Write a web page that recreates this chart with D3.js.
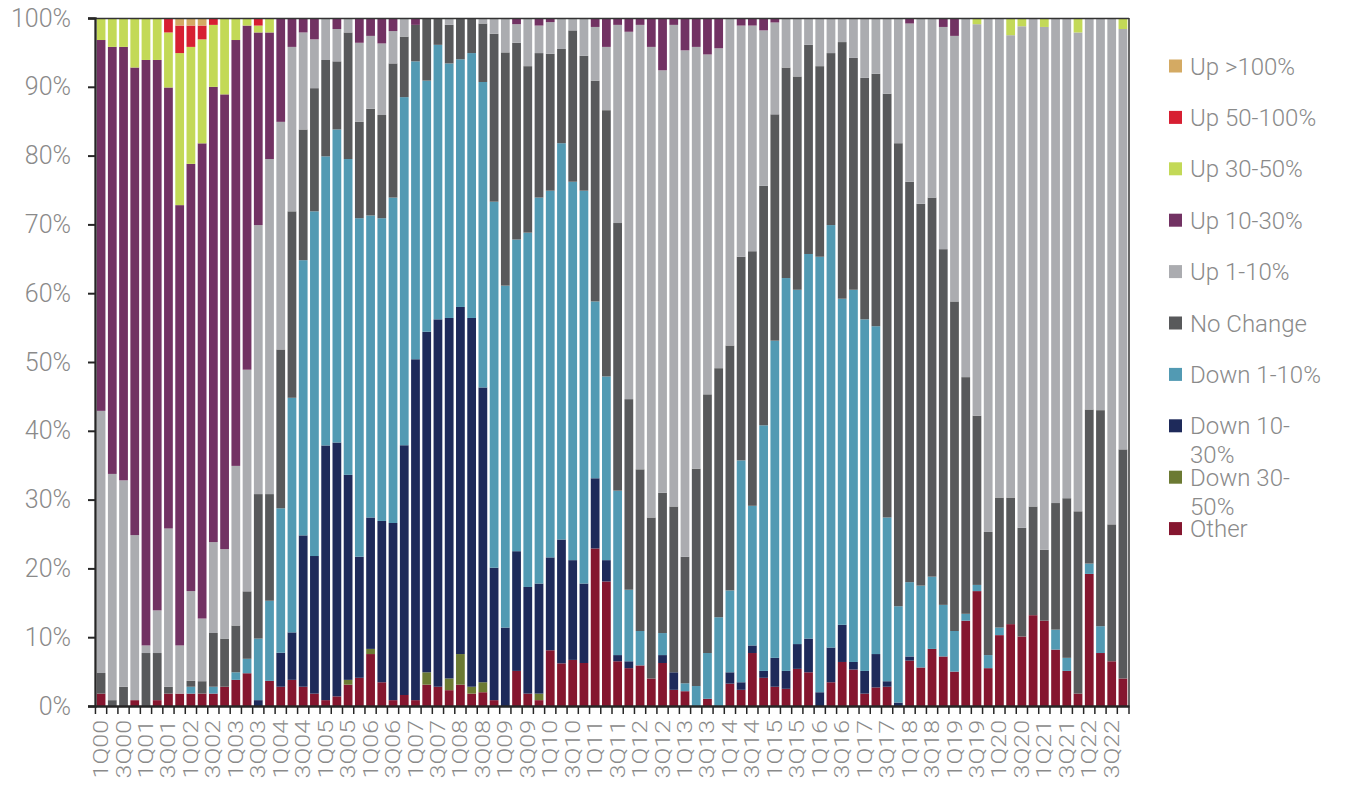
<!DOCTYPE html>
<html><head><meta charset="utf-8">
<script src="https://cdn.jsdelivr.net/npm/d3@7"></script>
<style>body{margin:0;background:#fff}</style>
</head><body><svg id="c" width="1345" height="785"></svg>
<script>
const categories = ["1Q00","2Q00","3Q00","4Q00","1Q01","2Q01","3Q01","4Q01","1Q02","2Q02","3Q02","4Q02",
"1Q03","2Q03","3Q03","4Q03","1Q04","2Q04","3Q04","4Q04","1Q05","2Q05","3Q05","4Q05",
"1Q06","2Q06","3Q06","4Q06","1Q07","2Q07","3Q07","4Q07","1Q08","2Q08","3Q08","4Q08",
"1Q09","2Q09","3Q09","4Q09","1Q10","2Q10","3Q10","4Q10","1Q11","2Q11","3Q11","4Q11",
"1Q12","2Q12","3Q12","4Q12","1Q13","2Q13","3Q13","4Q13","1Q14","2Q14","3Q14","4Q14",
"1Q15","2Q15","3Q15","4Q15","1Q16","2Q16","3Q16","4Q16","1Q17","2Q17","3Q17","4Q17",
"1Q18","2Q18","3Q18","4Q18","1Q19","2Q19","3Q19","4Q19","1Q20","2Q20","3Q20","4Q20",
"1Q21","2Q21","3Q21","4Q21","1Q22","2Q22","3Q22","4Q22"];
const xTickLabels = ["1Q00","3Q00","1Q01","3Q01","1Q02","3Q02","1Q03","3Q03","1Q04","3Q04","1Q05","3Q05",
"1Q06","3Q06","1Q07","3Q07","1Q08","3Q08","1Q09","3Q09","1Q10","3Q10","1Q11","3Q11","1Q12","3Q12",
"1Q13","3Q13","1Q14","3Q14","1Q15","3Q15","1Q16","3Q16","1Q17","3Q17","1Q18","3Q18","1Q19","3Q19",
"1Q20","3Q20","1Q21","3Q21","1Q22","3Q22"];

const other = [1.8,0,0,0.85,0,0.85,1.8,1.8,1.8,1.8, 1.8,2.8,3.8,4.76,0,3.65,2.8,3.8,2.8,1.8,
 0.85,1.4,3.1,4.1,7.55,3.45,0.85,1.6,0.85,3.1, 2.8,2.3,3.1,1.8,2.0,0.85,0,5.1,1.8,0.85,
 8.1,6.2,6.7,6.25,22.9,18.1,6.5,5.5,5.9,4.0, 6.25,2.35,2.15,0,1.05,0,3.25,2.35,7.7,4.1,
 2.8,2.5,5.4,4.9,0,3.45,6.4,5.3,1.8,2.7, 2.8,0,6.6,5.6,8.3,7.2,5.0,12.4,16.7,5.5,
 10.3,11.9,10.1,13.2,12.4,8.2,5.1,1.8,19.2,7.7, 6.5,4.0];
const down30_50 = [0,0,0,0,0,0,0,0,0,0, 0,0,0,0,0,0,0,0,0,0,
 0,0,0.7,0,0.75,0,0,0,0,1.8, 0,1.7,4.45,1.0,1.45,0,0,0,0,0.95,
 0,0,0,0,0,0,0,0,0,0, 0,0,0,0,0,0,0,0,0,0,
 0,0,0,0,0,0,0,0,0,0, 0,0,0,0,0,0,0,0,0,0,
 0,0,0,0,0,0,0,0,0,0, 0,0];
const down10_30 = [0,0,0,0,0,0,0,0,0,0, 0,0,0,0,0.85,0,4.95,6.9,22,20,
 37,36.9,29.8,17.6,19.1,23.45,25.75,36.3,49.55,49.5, 53.4,52.4,50.45,53.6,42.85,19.25,11.4,17.4,15.5,16,
 13.5,18,14.5,11.55,10.2,3.1,0.9,1.0,0,0, 1.15,2.55,0,0,0,0,1.65,1.1,1.1,1.0,
 4.2,2.6,3.6,4.9,2.0,5.05,5.4,1.1,3.3,4.85, 0.8,0.5,0.6,0,0,0,0,0,0,0,
 0,0,0,0,0,0,0,0,0,0, 0,0];
const down1_10 = [0,0,0,0,0,0,0,0,1.0,0, 1.0,0,1.1,2.1,8.95,11.65,21,34.1,40,50.1,
 42,45.5,45.9,49.2,43.9,44,47.3,50.6,43.3,36.5, 39.9,37,36,38.5,44.4,53.2,49.7,45.3,51.5,56.1,
 53.3,57.6,55,57.1,25.7,26.7,23.9,10.4,5.0,0, 3.2,0,1.15,2.9,6.65,12.9,11.9,32.25,20.3,35.7,
 46.1,57.1,51.5,55.9,63.3,61.4,47.4,54.1,51.1,47.65, 23.8,14,10.8,11.9,10.5,7.5,5.9,1.0,0.9,1.9,
 1.1,0,0,0,0,2.9,1.9,0,1.5,3.9, 0,0];
const noChange = [3.0,0.85,2.8,0,7.7,6.85,1.0,0,0.85,1.8, 7.8,7,6.8,9.8,21,15.5,23.1,27.1,19,17.9,
 14,9.9,18.4,14,15.5,15,19.5,8.8,5.3,9.1, 3.9,5.6,6,5.1,8.5,24.4,33.9,28.6,24.2,21,
 19.9,13.7,22,19.6,32.1,38.7,38.9,27.7,23.5,23.4, 20.4,24.1,18.4,31.6,37.6,36.2,35.6,29.6,37,34.8,
 32.9,30.6,31,30.4,27.7,25,37.3,33.7,35.1,36.7, 61.6,67.3,58.2,55.5,55.1,51.7,47.9,34.4,24.6,17.9,
 18.9,18.4,15.8,15.8,10.3,18.4,23.2,26.5,22.4,31.4, 19.9,33.3];
const up1_10 = [38.1,32.9,30,24,1.1,6.2,23,7,13.05,9.1, 13.2,13,23.2,32.2,39.1,48.7,33.1,23.9,14.1,7.1,
 6.1,4.7,2.1,11.5,10.6,10.4,4.7,2.7,0,0, 0,1.0,0,0,0.8,2.3,5,2.7,7,4.0,
 4.6,4.5,1.8,5.5,7.8,9.2,28.8,53.4,64.6,68.4, 61.4,70,73.6,61.3,49.4,46.5,47.6,33.6,32.8,22.6,
 13.35,7.2,8.5,3.9,7,5.1,3.5,5.8,8.7,8.1, 11,18.2,23,27,26.1,32.3,38.6,52.2,56.9,74.7,
 69.7,67.2,72.9,71,76,70.5,69.8,69.6,56.9,57, 73.6,61.1];
const up10_30 = [53.9,62.1,63,68,85.1,80,64.1,64,62.1,69, 66.1,66.1,61.9,50,28,18.4,15.1,4.2,2.1,3.1,
 0,1.6,0,3.6,2.6,3.7,1.9,0,1.0,0, 0,0,0,0,0,0,0,0.9,0,1.1,
 0.6,0,0,0,1.3,4.2,1.0,2.0,1.0,4.2, 7.6,1.0,4.7,4.2,5.3,4.4,0,1.1,1.1,1.8,
 0.65,0,0,0,0,0,0,0,0,0, 0,0,0.8,0,0,1.3,2.6,0,0,0,
 0,0,0,0,0,0,0,0,0,0, 0,0];
const up30_50 = [3.2,4.2,4.2,7.2,6.1,6.1,8,22.1,17,15.1, 9.0,11.1,3.2,1.1,1.0,2.1,0,0,0,0,
 0,0,0,0,0,0,0,0,0,0, 0,0,0,0,0,0,0,0,0,0,
 0,0,0,0,0,0,0,0,0,0, 0,0,0,0,0,0,0,0,0,0,
 0,0,0,0,0,0,0,0,0,0, 0,0,0,0,0,0,0,0,0.9,0,
 0,2.5,1.2,0,1.3,0,0,2.1,0,0, 0,1.6];
const up50_100 = [0,0,0,0,0,0,2.1,4.0,3.1,2.0, 1.0,0,0,0,1.1,0,0,0,0,0,
 0,0,0,0,0,0,0,0,0,0, 0,0,0,0,0,0,0,0,0,0,
 0,0,0,0,0,0,0,0,0,0, 0,0,0,0,0,0,0,0,0,0,
 0,0,0,0,0,0,0,0,0,0, 0,0,0,0,0,0,0,0,0,0,
 0,0,0,0,0,0,0,0,0,0, 0,0];
const up100 = [0,0,0,0,0,0,0,1.1,1.1,1.1, 0,0,0,0,0,0,0,0,0,0,
 0,0,0,0,0,0,0,0,0,0, 0,0,0,0,0,0,0,0,0,0,
 0,0,0,0,0,0,0,0,0,0, 0,0,0,0,0,0,0,0,0,0,
 0,0,0,0,0,0,0,0,0,0, 0,0,0,0,0,0,0,0,0,0,
 0,0,0,0,0,0,0,0,0,0, 0,0];

const seriesNames = ["Other","Down 30-50%","Down 10-30%","Down 1-10%","No Change","Up 1-10%","Up 10-30%","Up 30-50%","Up 50-100%","Up >100%"];
const seriesValues = [other, down30_50, down10_30, down1_10, noChange, up1_10, up10_30, up30_50, up50_100, up100];
const seriesColors = ["#85162F","#6C7A33","#1E2A5A","#529AB3","#58595B","#ABACB0","#723263","#C3D957","#D71F32","#D4AA63"];
const legendLines = [["Up >100%"],["Up 50-100%"],["Up 30-50%"],["Up 10-30%"],["Up 1-10%"],["No Change"],["Down 1-10%"],["Down 10-","30%"],["Down 30-","50%"],["Other"]];
const legendColors = ["#D4AA63","#D71F32","#C3D957","#723263","#ABACB0","#58595B","#529AB3","#1E2A5A","#6C7A33","#85162F"];
const yTicks = [0,0.1,0.2,0.3,0.4,0.5,0.6,0.7,0.8,0.9,1];
const yTickLabels = ["0%","10%","20%","30%","40%","50%","60%","70%","80%","90%","100%"];

const svg = d3.select("#c");
const L = 95, R = 1129, T = 18, B = 706;
const textColor = "#8a8a8a";
const font = "Roboto, 'Open Sans', sans-serif";

const rows = categories.map((c, i) => {
  const r = {cat: c};
  seriesNames.forEach((s, k) => r[s] = seriesValues[k][i]);
  return r;
});
const stack = d3.stack().keys(seriesNames).offset(d3.stackOffsetExpand);
const stacked = stack(rows);

const x = d3.scaleBand().domain(categories).range([L, R]).paddingInner(0.22).paddingOuter(0.15);
const y = d3.scaleLinear().domain([0, 1]).range([B, T]);

svg.append("g").selectAll("g").data(stacked).join("g")
  .attr("fill", (d, k) => seriesColors[k])
  .selectAll("rect").data(d => d).join("rect")
  .attr("x", d => x(d.data.cat))
  .attr("width", x.bandwidth())
  .attr("y", d => y(d[1]))
  .attr("height", d => Math.max(0, y(d[0]) - y(d[1])));

// frame
svg.append("line").attr("x1", L).attr("x2", R).attr("y1", T + 0.5).attr("y2", T + 0.5).attr("stroke", "#333").attr("stroke-width", 1.3);
svg.append("line").attr("x1", R).attr("x2", R).attr("y1", T).attr("y2", B).attr("stroke", "#333").attr("stroke-width", 1.5);

// y axis
const yAxis = svg.append("g").attr("transform", `translate(${L},0)`)
  .call(d3.axisLeft(y).tickValues(yTicks).tickFormat((d, i) => yTickLabels[i]).tickSize(7).tickPadding(17));
yAxis.select(".domain").attr("stroke", "#262626").attr("stroke-width", 2.3);
yAxis.selectAll(".tick line").attr("stroke", "#262626").attr("stroke-width", 2);
yAxis.selectAll(".tick text").attr("fill", textColor).style("font-family", font).style("font-weight", 300).style("font-size", "25px");

// x axis
const xAxis = svg.append("g").attr("transform", `translate(0,${B})`)
  .call(d3.axisBottom(x).tickValues(xTickLabels).tickSize(0).tickFormat(""));
xAxis.select(".domain").attr("stroke", "#262626").attr("stroke-width", 2.3);
// ticks at band boundaries
const bounds = categories.map(c => x(c) - x.step() * x.paddingInner() / 2).concat([R]);
svg.append("g").selectAll("line").data(bounds).join("line")
  .attr("x1", d => d).attr("x2", d => d).attr("y1", B).attr("y2", B + 8)
  .attr("stroke", "#262626").attr("stroke-width", 1.5);
svg.append("g").selectAll("text").data(xTickLabels).join("text")
  .attr("transform", d => `translate(${x(d) + x.bandwidth() / 2},${720}) rotate(-90) scale(1.28,1)`)
  .attr("text-anchor", "end").attr("dy", "0.36em")
  .attr("fill", textColor).style("font-family", font).style("font-weight", 300).style("font-size", "19.5px")
  .text(d => d);

// legend
const lg = svg.append("g");
legendLines.forEach((lines, k) => {
  const cy = 66 + k * 51.4;
  lg.append("rect").attr("x", 1169).attr("y", cy - 6.5).attr("width", 13).attr("height", 13).attr("fill", legendColors[k]);
  lines.forEach((t, j) => {
    lg.append("text").attr("x", 1190).attr("y", cy + j * 29).attr("dy", "0.36em")
      .attr("fill", textColor).style("font-family", font).style("font-weight", 300).style("font-size", "24px")
      .text(t);
  });
});
</script>
</body></html>
